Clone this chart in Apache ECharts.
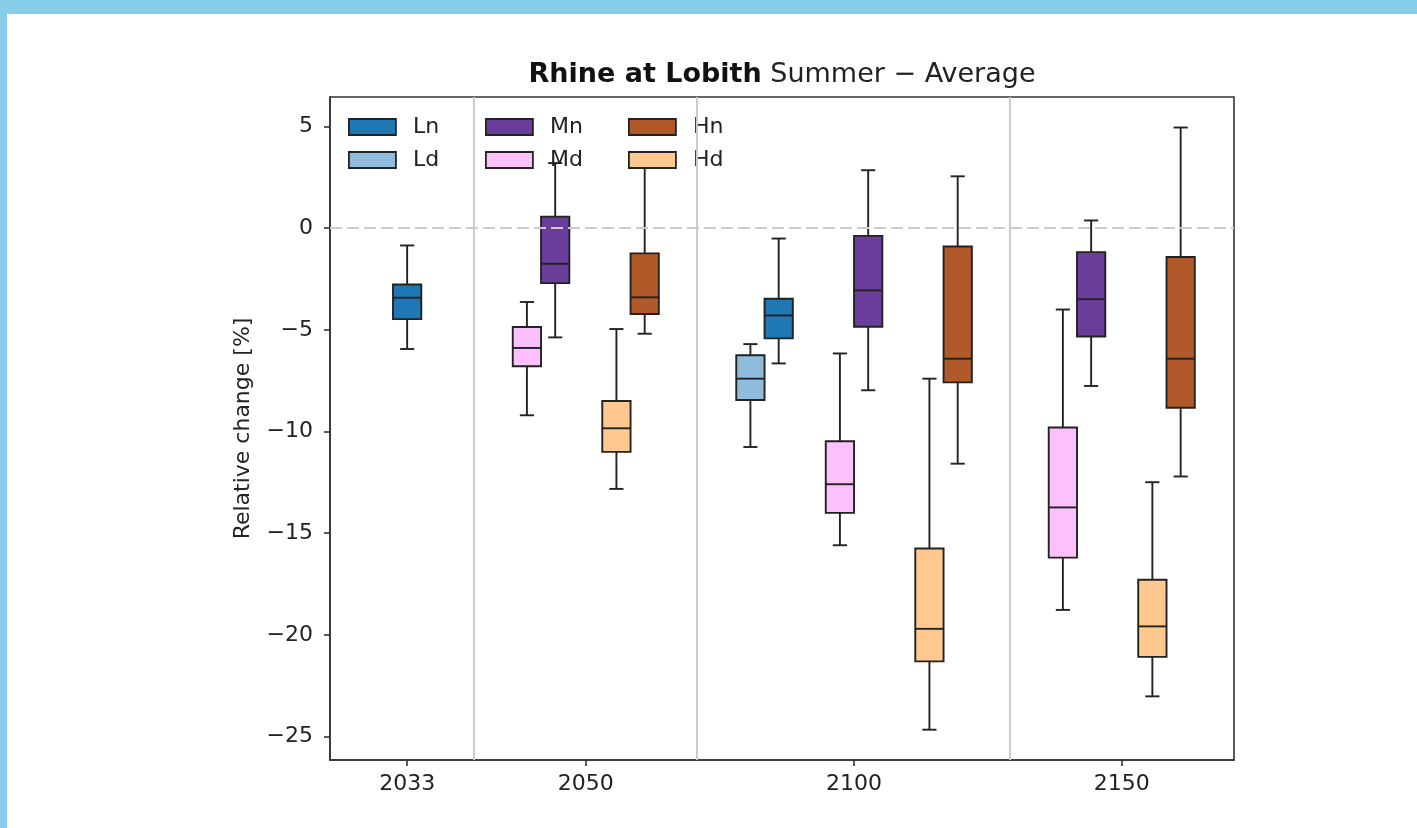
<!DOCTYPE html>
<html>
<head>
<meta charset="utf-8">
<script src="https://cdn.jsdelivr.net/npm/echarts@6/dist/echarts.min.js"></script>
<style>
  html, body { margin: 0; padding: 0; }
  body { width: 1417px; height: 828px; background: #86cdea; position: relative; overflow: hidden; }
  #chart { position: absolute; left: 7px; top: 14px; width: 1410px; height: 814px; background: #fff; }
</style>
</head>
<body>
<div id="chart"></div>
<script>
// year groups and where the M pair of each group sits on the x axis (slot units)
const years = ['2033', '2050', '2100', '2150'];
const groupCenter = [1.704, 2.358, 5.855, 8.346];
const scenarioShift = { L: -1, M: 0, H: 1 };
const variantShift = { d: -0.158, n: 0.158 };
const boxWidth = 0.316;
const dividers = [1.609, 4.101, 7.598];
const yTicks = [-25, -20, -15, -10, -5, 0, 5];

// [year index, low whisker, q1, median, q3, high whisker]
const Ln = [[0, -5.94, -4.47, -3.42, -2.77, -0.85], [2, -6.65, -5.42, -4.29, -3.47, -0.51]];
const Ld = [[2, -10.76, -8.45, -7.40, -6.25, -5.70]];
const Mn = [[1, -5.37, -2.70, -1.75, 0.57, 3.20], [2, -7.97, -4.85, -3.06, -0.38, 2.85], [3, -7.76, -5.33, -3.49, -1.18, 0.38]];
const Md = [[1, -9.20, -6.79, -5.89, -4.86, -3.63], [2, -15.59, -14.00, -12.59, -10.48, -6.16], [3, -18.77, -16.20, -13.73, -9.80, -4.00]];
const Hn = [[1, -5.19, -4.22, -3.40, -1.24, 3.40], [2, -11.58, -7.58, -6.42, -0.90, 2.55], [3, -12.21, -8.83, -6.42, -1.42, 4.95]];
const Hd = [[1, -12.82, -11.00, -9.84, -8.50, -4.96], [2, -24.66, -21.30, -19.70, -15.75, -7.40], [3, -23.02, -21.08, -19.58, -17.29, -12.49]];

const groups = [
  { name: 'Ln', stats: Ln, color: '#1f77b4' },
  { name: 'Ld', stats: Ld, color: '#8fbcdc' },
  { name: 'Mn', stats: Mn, color: '#6a3d9a' },
  { name: 'Md', stats: Md, color: '#fcc0fc' },
  { name: 'Hn', stats: Hn, color: '#b15928' },
  { name: 'Hd', stats: Hd, color: '#ffc88f' },
];

const edge = '#222';
const font = 'DejaVu Sans';

function boxPos(name, yearIdx) {
  return groupCenter[yearIdx] + scenarioShift[name[0]] + variantShift[name[1]];
}

// tick sits at the mean position of the boxes present in each year
const tickPos = years.map((y, i) => {
  const xs = [];
  groups.forEach(g => g.stats.forEach(s => { if (s[0] === i) xs.push(boxPos(g.name, i)); }));
  return xs.reduce((a, b) => a + b, 0) / xs.length;
});

function renderBox(params, api) {
  const x = api.value(0);
  const lo = api.coord([x, api.value(1)]);
  const q1 = api.coord([x, api.value(2)]);
  const md = api.coord([x, api.value(3)]);
  const q3 = api.coord([x, api.value(4)]);
  const hi = api.coord([x, api.value(5)]);
  const w = api.size([boxWidth, 0])[0];
  const cx = lo[0];
  const cap = w / 4;
  const ln = { stroke: edge, lineWidth: 1.9 };
  return {
    type: 'group',
    children: [
      { type: 'line', shape: { x1: cx, y1: q3[1], x2: cx, y2: hi[1] }, style: ln },
      { type: 'line', shape: { x1: cx - cap, y1: hi[1], x2: cx + cap, y2: hi[1] }, style: ln },
      { type: 'line', shape: { x1: cx, y1: q1[1], x2: cx, y2: lo[1] }, style: ln },
      { type: 'line', shape: { x1: cx - cap, y1: lo[1], x2: cx + cap, y2: lo[1] }, style: ln },
      { type: 'rect', shape: { x: cx - w / 2, y: q3[1], width: w, height: q1[1] - q3[1] },
        style: { fill: api.visual('color'), stroke: edge, lineWidth: 1.9 } },
      { type: 'line', shape: { x1: cx - w / 2, y1: md[1], x2: cx + w / 2, y2: md[1] }, style: ln },
    ],
  };
}

const chart = echarts.init(document.getElementById('chart'));

const boxSeries = groups.map(g => ({
  name: g.name,
  type: 'custom',
  z: 3,
  renderItem: renderBox,
  itemStyle: { color: g.color, borderColor: edge, borderWidth: 1.5 },
  encode: { x: 0, y: [1, 2, 3, 4, 5] },
  data: g.stats.map(s => [boxPos(g.name, s[0]), s[1], s[2], s[3], s[4], s[5]]),
}));

const legendBase = {
  orient: 'vertical',
  top: 102,
  padding: 0,
  itemWidth: 47,
  itemHeight: 16,
  itemGap: 11,
  icon: 'rect',
  selectedMode: false,
  itemStyle: { borderColor: edge, borderWidth: 1.8 },
  textStyle: { fontFamily: font, fontSize: 22, lineHeight: 22, color: '#222', padding: [0, 0, 0, 12] },
};

chart.setOption({
  animation: false,
  textStyle: { fontFamily: font },
  graphic: [{
    type: 'text',
    x: 775,
    y: 61,
    style: {
      text: '{b|Rhine at Lobith}{n|\u00a0Summer \u2212 Average}',
      align: 'center',
      verticalAlign: 'middle',
      rich: {
        b: { fontFamily: font, fontSize: 27, fontWeight: 'bold', fill: '#111' },
        n: { fontFamily: font, fontSize: 27, fill: '#222' },
      },
    },
  }],
  legend: [
    Object.assign({}, legendBase, { left: 341, data: ['Ln', 'Ld'] }),
    Object.assign({}, legendBase, { left: 478, data: ['Mn', 'Md'] }),
    Object.assign({}, legendBase, { left: 621, data: ['Hn', 'Hd'] }),
  ],
  grid: {
    left: 323, top: 83, width: 904, height: 663,
    show: true, borderColor: '#333', borderWidth: 1.6, backgroundColor: 'transparent',
  },
  xAxis: {
    type: 'value',
    min: 0,
    max: 10.1,
    splitLine: { show: false },
    axisLine: { onZero: false, lineStyle: { color: '#333', width: 1.6 } },
    axisTick: { customValues: tickPos, length: 6, lineStyle: { color: '#333', width: 1.6 } },
    axisLabel: {
      customValues: tickPos,
      margin: 13,
      fontFamily: font,
      fontSize: 22,
      color: '#222',
      formatter: v => years[tickPos.findIndex(p => Math.abs(p - v) < 1e-6)] || '',
    },
  },
  yAxis: {
    type: 'value',
    min: -26.15,
    max: 6.45,
    name: 'Relative change [%]',
    nameLocation: 'middle',
    nameGap: 76,
    nameTextStyle: { fontFamily: font, fontSize: 22, color: '#222' },
    splitLine: { show: false },
    axisLine: { lineStyle: { color: '#333', width: 1.6 } },
    axisTick: { customValues: yTicks, length: 6, lineStyle: { color: '#333', width: 1.6 } },
    axisLabel: {
      customValues: yTicks,
      margin: 17,
      fontFamily: font,
      fontSize: 22,
      color: '#222',
      formatter: v => String(v).replace('-', '\u2212'),
    },
  },
  series: [
    {
      type: 'line',
      data: [],
      z: 1,
      silent: true,
      markLine: {
        symbol: 'none',
        silent: true,
        label: { show: false },
        data: [
          { yAxis: 0, lineStyle: { color: '#cccccc', width: 2, type: [12, 5] } },
        ].concat(dividers.map(d => ({ xAxis: d, lineStyle: { color: '#cccccc', width: 2, type: 'solid' } }))),
      },
    },
  ].concat(boxSeries),
});
</script>
</body>
</html>
